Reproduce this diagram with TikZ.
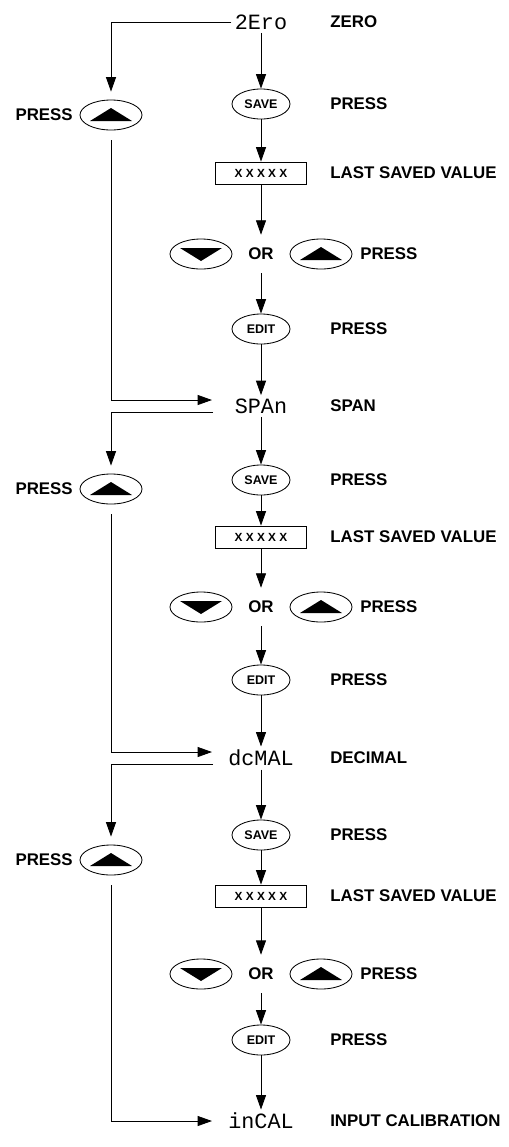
\documentclass[tikz,border=0pt]{standalone}
\usepackage{fontspec}
\setmainfont{Liberation Sans}
\newfontfamily\dispfont{Liberation Mono}
\usetikzlibrary{arrows.meta,shapes.geometric}
\tikzset{
  >={Triangle[length=3.6mm,width=2.5mm]},
  flow/.style={line width=0.6pt},
  display/.style={font=\dispfont\fontsize{15.5pt}{16pt}\selectfont, inner sep=0.8mm},
  caption/.style={font=\bfseries\fontsize{12pt}{14pt}\selectfont, inner sep=0pt, anchor=west},
  key/.style={draw, ellipse, line width=0.6pt, minimum width=14.5mm, minimum height=7.5mm,
    inner sep=0pt, font=\bfseries\fontsize{8.9pt}{10pt}\selectfont},
  upkey/.style={key, minimum width=15.5mm,
    path picture={\fill (path picture bounding box.center) ++(-21,6) -- ++(42,0) -- ++(-21,-13) -- cycle;}},
  downkey/.style={key, minimum width=15.5mm,
    path picture={\fill (path picture bounding box.center) ++(-21,-6) -- ++(42,0) -- ++(-21,13) -- cycle;}},
  valuebox/.style={draw, line width=0.6pt, minimum width=22.75mm, minimum height=5.5mm,
    inner sep=0pt, font=\bfseries\fontsize{8.4pt}{9pt}\selectfont},
  ortext/.style={font=\bfseries\fontsize{12pt}{14pt}\selectfont, inner sep=0pt, minimum height=9.5mm},
}
\begin{document}
\begin{tikzpicture}[x=0.25mm,y=-0.25mm]
    \useasboundingbox (0,0) rectangle (509,1147);
    %% Displays
    \node[display] (d1) at (261,22) {2Ero};
    \node[display] (d2) at (261,406) {SPAn};
    \node[display] (d3) at (261,758) {dcMAL};
    \node[display] (d4) at (261,1121) {inCAL};
    \node[caption] at (330,22) {ZERO};
    \node[caption] at (330,406) {SPAN};
    \node[caption] at (330,758) {DECIMAL};
    \node[caption] at (330,1121) {INPUT CALIBRATION};
    %% Ends of the side paths
    \coordinate (out1) at (d1.west);
    \coordinate (out2) at (213,412);
    \coordinate (out3) at (213,764);
    \coordinate (in2) at (212,400);
    \coordinate (in3) at (212,752);
    \coordinate (in4) at (212,1121);
    %% Steps
    \foreach \n/\m/\ys/\yb/\yo/\ye/\yk in {1/2/104/173/254/329/115,
        2/3/480/537/607/680/489, 3/4/835/896/974/1040/860} {
        \node[key] (save\n) at (261,\ys) {SAVE};
        \node[caption] at (330,\ys) {PRESS};
        \node[valuebox] (box\n) at (261,\yb) {X X X X X};
        \node[caption] at (330,\yb) {LAST SAVED VALUE};
        \node[ortext] (or\n) at (261,\yo) {OR};
        \node[downkey] (down\n) at (201,\yo) {};
        \node[upkey] (up\n) at (321,\yo) {};
        \node[caption] at (360,\yo) {PRESS};
        \node[key] (edit\n) at (261,\ye) {EDIT};
        \node[caption] at (330,\ye) {PRESS};
        \node[upkey] (skip\n) at (111,\yk) {};
        \node[caption,anchor=east] at (73,\yk) {PRESS};
        %% Arrows
        \draw[flow,->] (d\n) -- (save\n);
        \draw[flow,->] (save\n) -- (box\n);
        \draw[flow,->] (box\n) -- (or\n);
        \draw[flow,->] (or\n) -- (edit\n);
        \draw[flow,->] (edit\n) -- (d\m);
        \draw[flow,->,shorten >=2mm] (out\n) -| (skip\n.north);
        \draw[flow,->,shorten <=2.5mm] (skip\n.south) |- (in\m);
    }
\end{tikzpicture}
\end{document}
